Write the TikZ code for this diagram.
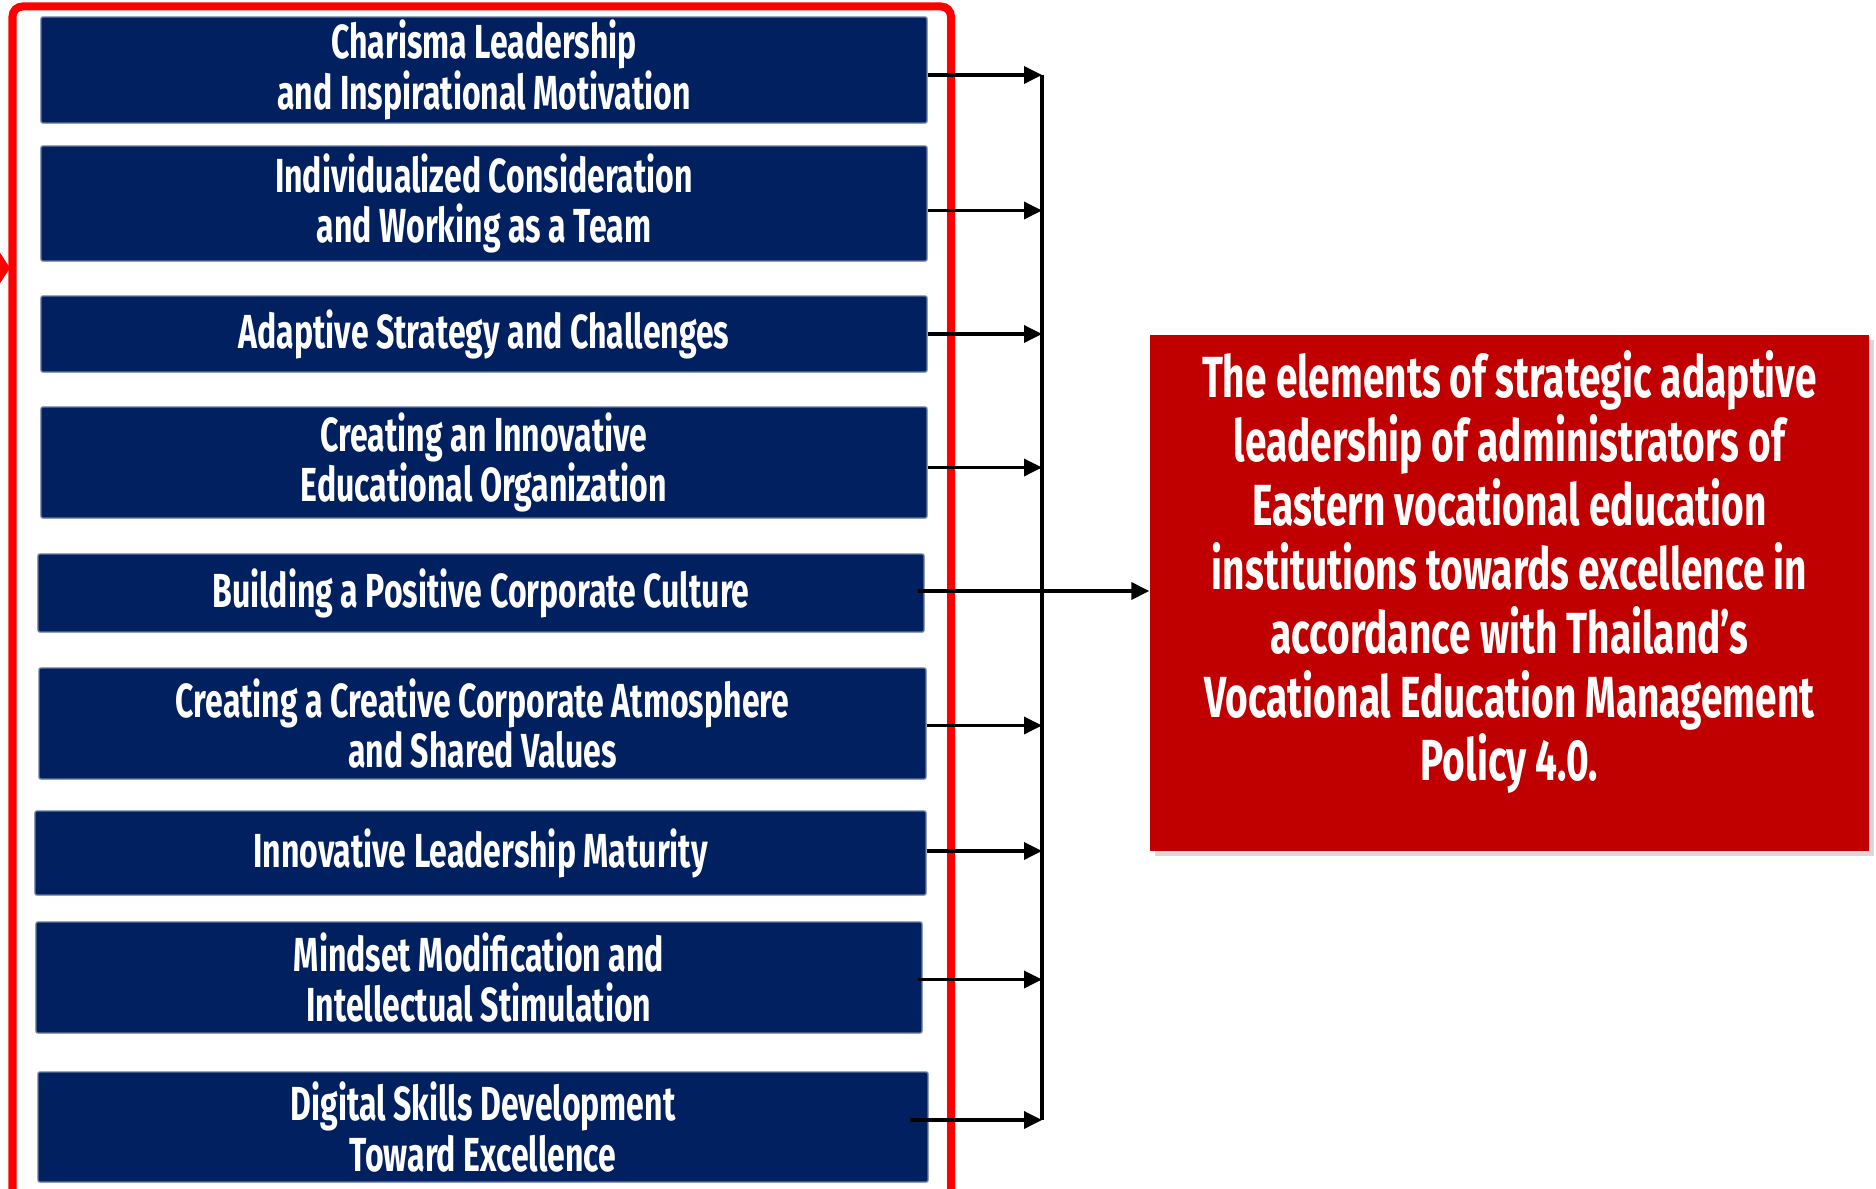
\documentclass[tikz,border=0pt]{standalone}
\usepackage{fontspec}
\usepackage{xcolor}
\usepackage{tikz}
\usetikzlibrary{arrows.meta,shadows}
\newfontfamily\agency[FakeStretch=0.67]{Fira Sans}
\definecolor{navy}{HTML}{002060}
\definecolor{goalred}{HTML}{C00000}
\definecolor{framered}{HTML}{FF0000}
\tikzset{
  comp/.style={fill=navy,draw=navy!60!white,line width=0.4pt,rounded corners=0.02cm,text=white,align=center,inner sep=0pt,minimum width=8.86cm,font=\agency\bfseries\fontsize{13.6pt}{14.4pt}\selectfont},
  goal/.style={fill=goalred,draw=none,drop shadow={shadow xshift=0.05cm,shadow yshift=-0.05cm,opacity=0.3}},
  goaltxt/.style={text=white,align=center,inner sep=0pt,font=\agency\bfseries\fontsize{16.5pt}{18.2pt}\selectfont},
  feed/.style={line width=0.035cm,-{Triangle[length=0.18cm,width=0.17cm]}},
  redframe/.style={draw=framered,line width=0.08cm}
}

\begin{document}
\begin{tikzpicture}
\useasboundingbox (0,0) rectangle (18.76,11.88);
\draw[redframe,rounded corners=0.1cm] (0.125,-0.3) rectangle (9.51,11.815);
\draw[redframe,-{Triangle[length=0.2cm,width=0.6cm]}] (-0.5,9.2) -- (0.10,9.2);

\node[comp,minimum height=1.06cm] (charisma) at (4.84,11.18) {Charisma Leadership\\and Inspirational Motivation};
\node[comp,minimum height=1.15cm] (consider) at (4.84,9.845) {Individualized Consideration\\and Working as a Team};
\node[comp,minimum height=0.76cm] (strategy) at (4.84,8.54) {Adaptive Strategy and Challenges};
\node[comp,minimum height=1.11cm] (innovorg) at (4.84,7.255) {Creating an Innovative\\Educational Organization};
\node[comp,minimum height=0.78cm] (culture) at (4.81,5.95) {Building a Positive Corporate Culture};
\node[comp,minimum height=1.11cm,minimum width=8.87cm] (atmos) at (4.825,4.645) {Creating a Creative Corporate Atmosphere\\and Shared Values};
\node[comp,minimum height=0.84cm,minimum width=8.91cm] (maturity) at (4.805,3.35) {Innovative Leadership Maturity};
\node[comp,minimum height=1.11cm] (mindset) at (4.79,2.105) {Mindset Modification and\\Intellectual Stimulation};
\node[comp,minimum height=1.10cm,minimum width=8.90cm] (digital) at (4.83,0.61) {Digital Skills Development\\Toward Excellence};

\node[goal,minimum width=7.19cm,minimum height=5.16cm] (goal) at (15.095,5.95) {};
\node[goaltxt] (goaltext) at ([yshift=0.21cm]goal.center) {The elements of strategic adaptive\\leadership of administrators of\\Eastern vocational education\\institutions towards excellence in\\accordance with Thailand’s\\Vocational Education Management\\Policy 4.0.};

\coordinate (spine) at (10.42,0);
\draw[feed] ([yshift=-0.05cm]charisma.east) -- ([yshift=-0.05cm]charisma.east -| spine);
\draw[feed] ([yshift=-0.07cm]consider.east) -- ([yshift=-0.07cm]consider.east -| spine);
\draw[feed] (strategy.east) -- (strategy.east -| spine);
\draw[feed] ([yshift=-0.05cm]innovorg.east) -- ([yshift=-0.05cm]innovorg.east -| spine);
\draw[feed] ([yshift=-0.02cm]atmos.east) -- ([yshift=-0.02cm]atmos.east -| spine);
\draw[feed] ([yshift=0.02cm]maturity.east) -- ([yshift=0.02cm]maturity.east -| spine);
\draw[feed] ([xshift=-0.05cm,yshift=-0.02cm]mindset.east) -- ([yshift=-0.02cm]mindset.east -| spine);
\draw[feed] ([xshift=-0.19cm,yshift=0.07cm]digital.east) -- ([yshift=0.07cm]digital.east -| spine);
\draw[line width=0.035cm] ([yshift=-0.05cm]charisma.east -| spine) -- ([yshift=0.07cm]digital.east -| spine);
\draw[feed] ([xshift=-0.07cm,yshift=0.02cm]culture.east) -- ([yshift=0.02cm]culture.east -| goal.west);
\end{tikzpicture}
\end{document}
